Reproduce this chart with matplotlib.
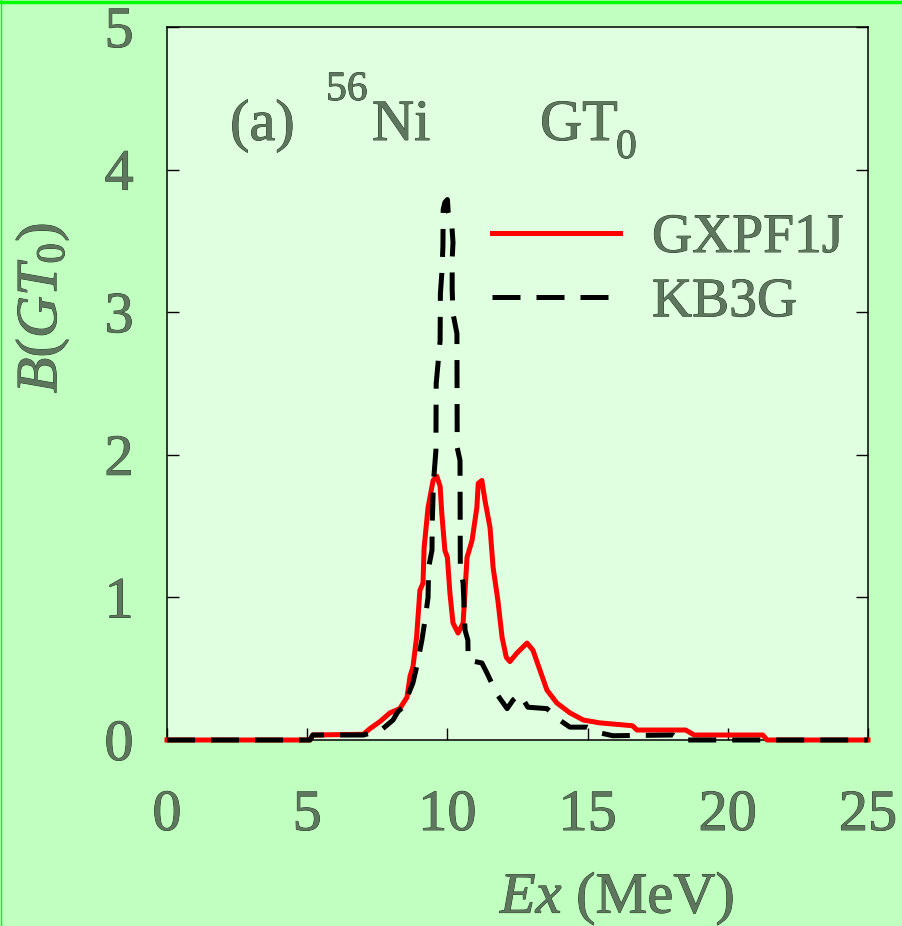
import matplotlib
matplotlib.use('Agg')
from matplotlib import pyplot as plt
import matplotlib.patheffects as pe
from matplotlib.lines import Line2D

# GXPF1J strength (MeV, B(GT0))
ex_gx = [0, 5.1, 5.2, 7.0, 7.24, 7.6, 7.95, 8.3, 8.56, 8.67, 8.77, 8.9, 9.02, 9.13, 9.17, 9.31,
         9.49, 9.62, 9.74, 9.8, 9.91, 10.0, 10.09, 10.2, 10.38, 10.56, 10.7, 10.88, 11.05, 11.1,
         11.23, 11.34, 11.52, 11.63, 11.8, 11.95, 12.1, 12.23, 12.48, 12.84, 13.05, 13.3, 13.55,
         13.9, 14.37, 14.85, 15.44, 16.6, 16.76, 18.5, 18.8, 21.25, 21.4, 25]
b_gx = [0, 0, 0.035, 0.04, 0.08, 0.13, 0.19, 0.22, 0.3, 0.45, 0.51, 0.72, 1.05, 1.10, 1.35, 1.63,
        1.82, 1.85, 1.78, 1.59, 1.33, 1.28, 1.03, 0.82, 0.75, 0.82, 1.28, 1.40, 1.63, 1.80,
        1.82, 1.68, 1.49, 1.21, 0.98, 0.72, 0.58, 0.55, 0.61, 0.68, 0.63, 0.49, 0.35,
        0.26, 0.19, 0.14, 0.12, 0.10, 0.07, 0.07, 0.035, 0.035, 0, 0]

# KB3G strength
ex_kb = [0, 5.1, 5.2, 7.0, 7.5, 7.7, 8.06, 8.24, 8.42, 8.77, 8.9, 9.09, 9.2, 9.31, 9.33, 9.45,
         9.46, 9.5, 9.59, 9.6, 9.74, 9.75, 9.8, 9.84, 9.85, 9.91, 10.0, 10.03, 10.16, 10.2, 10.17,
         10.17, 10.2, 10.34, 10.35, 10.45, 10.46, 10.56, 10.63, 10.73, 10.74, 11.23, 11.41, 11.77,
         12.13, 12.34, 12.59, 12.87, 13.55, 14.0, 14.37, 14.98, 15.44, 15.9, 18.05, 18.3, 25]
b_kb = [0, 0, 0.035, 0.035, 0.06, 0.08, 0.14, 0.2, 0.23, 0.4, 0.51, 0.70, 0.84, 1.0, 1.21, 1.33,
        1.52, 1.8, 2.03, 2.5, 2.8, 3.13, 3.27, 3.46, 3.72, 3.77, 3.79, 3.70, 3.60, 3.49, 3.37,
        3.16, 2.99, 2.85, 2.05, 1.96, 1.21, 1.1, 0.77, 0.70, 0.56, 0.54, 0.47, 0.32,
        0.22, 0.28, 0.32, 0.23, 0.22, 0.14, 0.09, 0.09, 0.05, 0.03, 0.035, 0, 0]

xticks = [0, 5, 10, 15, 20, 25]
yticks = [0, 1, 2, 3, 4, 5]

W, H = 902, 926
txt_col = '#5e765e'
fx = [pe.withStroke(linewidth=0.6, foreground='#1a2a1a')]

plt.rcParams['font.family'] = ['Liberation Serif', 'DejaVu Serif']
plt.rcParams['mathtext.fontset'] = 'custom'
plt.rcParams['mathtext.rm'] = 'Liberation Serif'
plt.rcParams['mathtext.it'] = 'Liberation Serif:italic'

fig = plt.figure(figsize=(W / 100, H / 100), dpi=100)
fig.patch.set_facecolor('#c0ffc0')
ax = fig.add_axes([167 / W, 1 - 740 / H, (868 - 167) / W, (740 - 27) / H])
ax.set_facecolor('#e0ffe0')

ax.plot(ex_gx, b_gx, color='#ff0000', lw=3.6, clip_on=False, label='GXPF1J', zorder=3)
ax.plot(ex_kb, b_kb, color='black', lw=3.6, dashes=(5.6, 3.2), clip_on=False, label='KB3G', zorder=4)

ax.set_xlim(0, 25)
ax.set_ylim(0, 5)
ax.set_xticks(xticks)
ax.set_yticks(yticks)
for s in ax.spines.values():
    s.set_linewidth(1.1)
ax.tick_params(axis='x', direction='in', length=8.6, width=1, top=False, pad=36, labelsize=42,
               labelcolor=txt_col)
ax.tick_params(axis='y', direction='in', length=8.6, width=1, right=True, pad=24, labelsize=42,
               labelcolor=txt_col)
for lab in ax.get_xticklabels() + ax.get_yticklabels():
    lab.set_path_effects(fx)

leg = ax.legend(loc='upper left', bbox_to_anchor=(492 / W, 1 - 212 / H), bbox_transform=fig.transFigure,
                frameon=False, fontsize=40, handlelength=2.3, handletextpad=0.58, labelspacing=0.22,
                borderpad=0, borderaxespad=0)
for t in leg.get_texts():
    t.set_color(txt_col)
    t.set_path_effects(fx)


def ftext(x, y, s, size=42, **kw):
    t = fig.text(x / W, 1 - y / H, s, fontsize=size, color=txt_col, va='baseline', ha='left', **kw)
    t.set_path_effects(fx)
    return t


ftext(230, 140, '(a)')
ftext(326, 100, '56', size=30)
ftext(372, 140, 'Ni')
ftext(540, 140, 'GT')
ftext(616, 158, '0', size=30)

ftext(500, 913, r'$Ex$ (MeV)', size=42)
t = fig.text(43 / W, 1 - 308 / H, r'$B(GT_{\mathit{0}})$', fontsize=42, color=txt_col, rotation=90,
             ha='center', va='center')
t.set_path_effects(fx)

# outer border
fig.add_artist(Line2D([0, 1], [1 - 1.5 / H, 1 - 1.5 / H], transform=fig.transFigure, color='#00ff00', lw=2.5))
fig.add_artist(Line2D([0.5 / W, 0.5 / W], [0, 1], transform=fig.transFigure, color='#00ff00', lw=1))

fig.savefig('out.png', dpi=100, facecolor=fig.get_facecolor())
